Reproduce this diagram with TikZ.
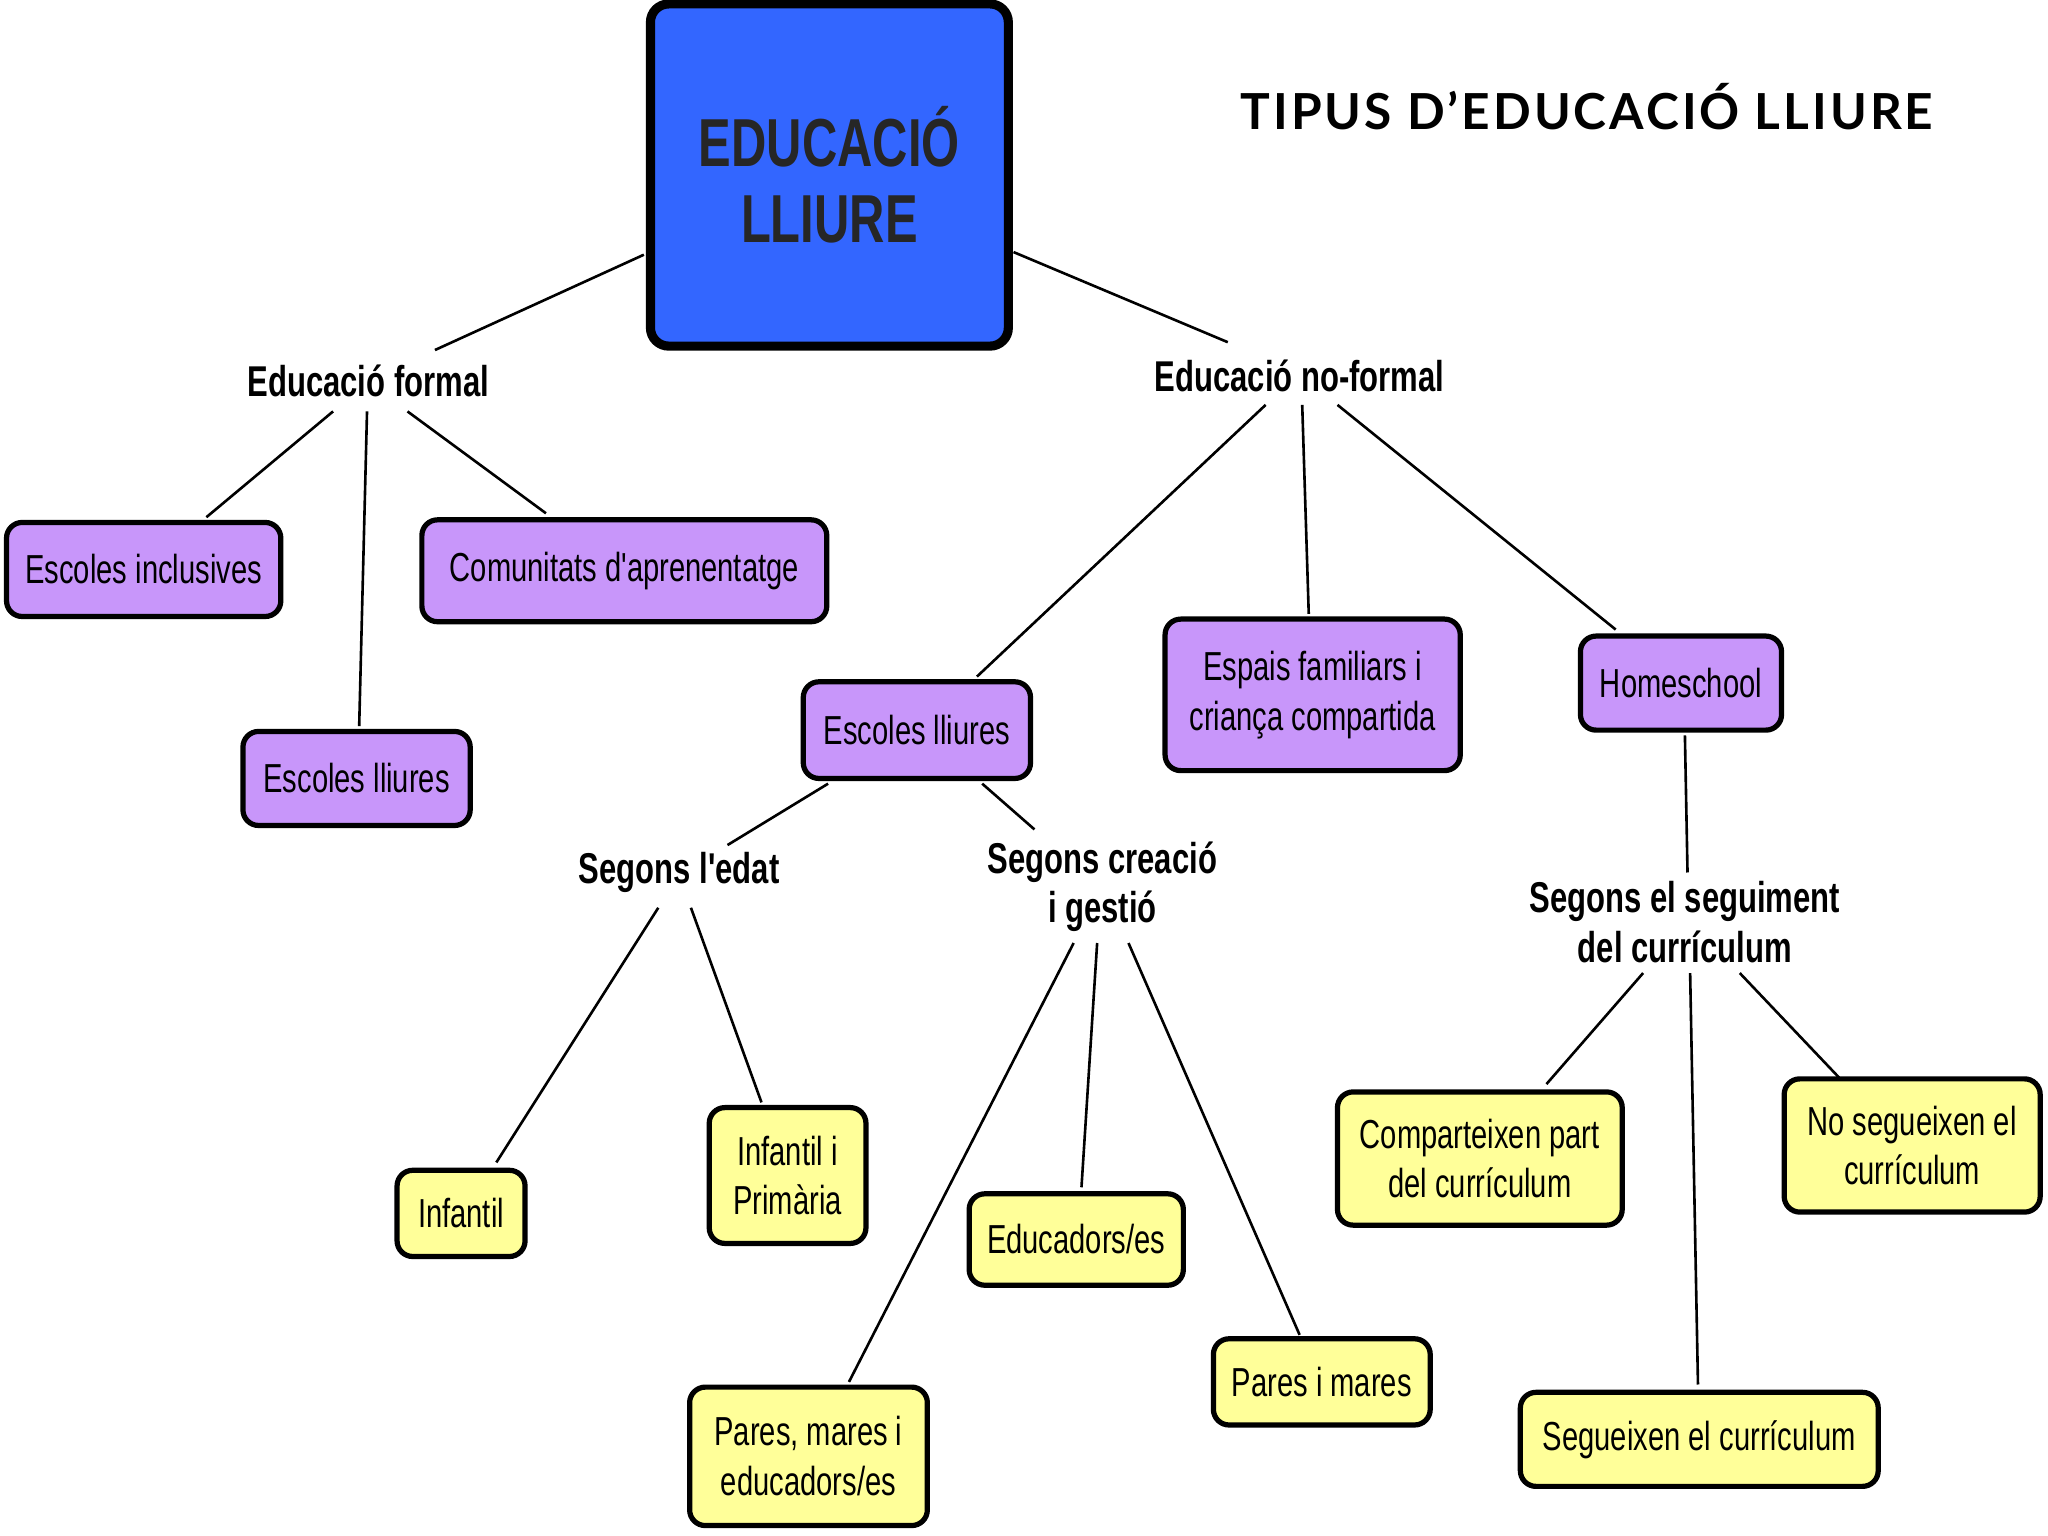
\documentclass[tikz,border=0pt]{standalone}
\usepackage{fontspec}
\setmainfont{Liberation Sans}
\newfontfamily\cond[FakeStretch=0.72]{Liberation Sans}
\newfontfamily\titlef[LetterSpace=6]{Lato}
\definecolor{rootblue}{HTML}{3366FF}
\definecolor{purp}{HTML}{C896FA}
\definecolor{yel}{HTML}{FFFF99}
\begin{document}
\begin{tikzpicture}[x=0.5pt,y=-0.5pt,
  box/.style={draw=black,line width=2pt,rounded corners=6pt,align=center,inner sep=0pt,font=\cond\fontsize{15.5}{19}\selectfont},
  pbox/.style={box,fill=purp},
  ybox/.style={box,fill=yel},
  lab/.style={align=center,inner sep=0pt,font=\cond\bfseries\fontsize{16.5}{19}\selectfont},
  con/.style={line width=1pt}]
\useasboundingbox[fill=white] (0,0) rectangle (1568,1176);
\node[draw=black,line width=3.5pt,rounded corners=7pt,fill=rootblue,minimum width=137pt,minimum height=131pt,align=center,font=\cond\bfseries\fontsize{26}{29}\selectfont,text=black!85] (root) at (635,134) {EDUCACIÓ\\LLIURE};
\node[font=\titlef\bfseries\fontsize{19}{22}\selectfont,inner sep=0pt] (title) at (1215,82) {TIPUS D’EDUCACIÓ LLIURE};
\node[lab] (ef) at (282,292) {Educació formal};
\node[lab] (enf) at (995,288) {Educació no-formal};
\node[pbox,minimum width=105pt,minimum height=36pt] (ei) at (110,436) {Escoles inclusives};
\node[pbox,minimum width=155pt,minimum height=39pt] (ca) at (478,437) {Comunitats d'aprenentatge};
\node[pbox,minimum width=87pt,minimum height=36pt] (el1) at (273,596) {Escoles lliures};
\node[pbox,minimum width=87pt,minimum height=37pt] (el2) at (702,559) {Escoles lliures};
\node[pbox,minimum width=113pt,minimum height=58pt] (esp) at (1005,532) {Espais familiars i\\criança compartida};
\node[pbox,minimum width=77pt,minimum height=36pt] (hs) at (1287,523) {Homeschool};
\node[lab] (se) at (520,668) {Segons l'edat};
\node[lab] (sc) at (844,679) {Segons creació\\i gestió};
\node[lab] (ss) at (1290,706) {Segons el seguiment\\del currículum};
\node[ybox,minimum width=49pt,minimum height=33pt] (inf) at (353,929) {Infantil};
\node[ybox,minimum width=60pt,minimum height=52pt] (ip) at (603,900) {Infantil i\\Primària};
\node[ybox,minimum width=82pt,minimum height=35pt] (ed) at (824,949) {Educadors/es};
\node[ybox,minimum width=91pt,minimum height=53pt] (pme) at (619,1115) {Pares, mares i\\educadors/es};
\node[ybox,minimum width=83pt,minimum height=33pt] (pm) at (1012,1058) {Pares i mares};
\node[ybox,minimum width=109pt,minimum height=51pt] (cp) at (1133,887) {Comparteixen part\\del currículum};
\node[ybox,minimum width=98pt,minimum height=51pt] (ns) at (1464,877) {No segueixen el\\currículum};
\node[ybox,minimum width=137pt,minimum height=36pt] (sg) at (1301,1102) {Segueixen el currículum};
\newcommand{\lnk}[4]{\draw[con] ([shift={#2}]#1.center) -- ([shift={#4}]#3.center);}
\lnk{root}{(-142,61)}{ef}{(51,-24)}
\lnk{root}{(141,59)}{enf}{(-55,-26)}
\lnk{ef}{(-27,23)}{ei}{(48,-40)}
\lnk{ef}{(-1,23)}{el1}{(2,-40)}
\lnk{ef}{(30,23)}{ca}{(-60,-44)}
\lnk{enf}{(-26,22)}{el2}{(46,-41)}
\lnk{enf}{(2,22)}{esp}{(-3,-62)}
\lnk{enf}{(29,22)}{hs}{(-50,-41)}
\lnk{el2}{(-68,41)}{se}{(37,-21)}
\lnk{el2}{(50,41)}{sc}{(-52,-44)}
\lnk{se}{(-16,27)}{inf}{(27,-39)}
\lnk{se}{(9,27)}{ip}{(-20,-56)}
\lnk{sc}{(-22,43)}{pme}{(31,-57)}
\lnk{sc}{(-4,43)}{ed}{(4,-40)}
\lnk{sc}{(20,43)}{pm}{(-17,-36)}
\lnk{hs}{(3,40)}{ss}{(2,-38)}
\lnk{ss}{(-32,39)}{cp}{(51,-57)}
\lnk{ss}{(4,39)}{sg}{(-1,-42)}
\lnk{ss}{(42,39)}{ns}{(-56,-52)}
\end{tikzpicture}
\end{document}
